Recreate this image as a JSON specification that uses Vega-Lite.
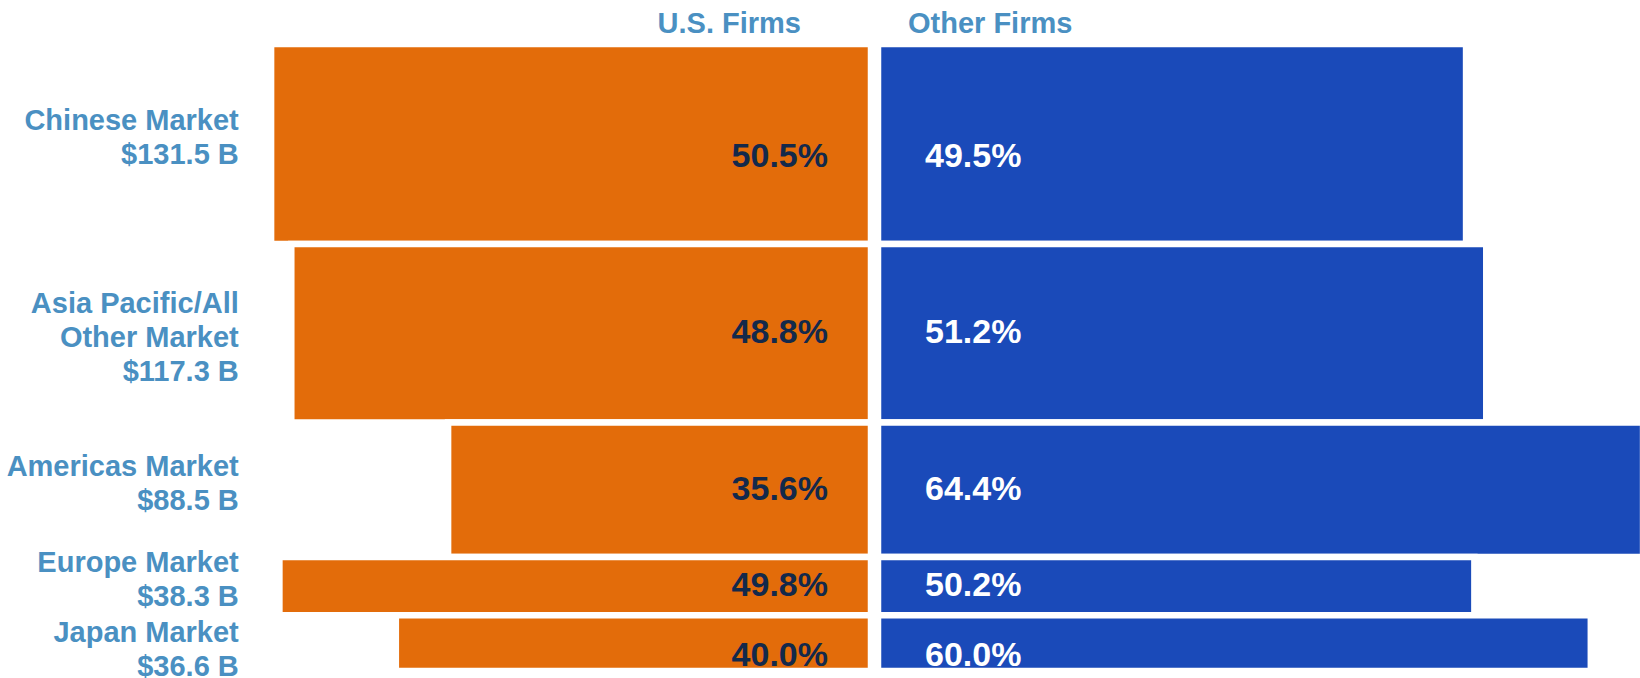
{
  "$schema": "https://vega.github.io/schema/vega-lite/v6.json",
  "autosize": {"type": "pad"},
  "padding": {"top": 10, "left": 0, "right": 0, "bottom": 0},
  "bounds": "flush",
  "background": "#ffffff",
  "config": {"view": {"stroke": null}, "font": "Liberation Sans"},
  "spacing": 7,
  "data": {
    "values": [
      {"order": 1, "market": "Chinese Market", "size": 131.5, "us": 0.505, "other": 0.495, "label": "Chinese Market\n$131.5 B"},
      {"order": 2, "market": "Asia Pacific/All Other Market", "size": 117.3, "us": 0.488, "other": 0.512, "label": "Asia Pacific/All\nOther Market\n$117.3 B"},
      {"order": 3, "market": "Americas Market", "size": 88.5, "us": 0.356, "other": 0.644, "label": "Americas Market\n$88.5 B"},
      {"order": 4, "market": "Europe Market", "size": 38.3, "us": 0.498, "other": 0.502, "label": "Europe Market\n$38.3 B"},
      {"order": 5, "market": "Japan Market", "size": 36.6, "us": 0.400, "other": 0.600, "label": "Japan Market\n$36.6 B"}
    ]
  },
  "transform": [
    {"stack": "size", "groupby": [], "sort": [{"field": "order", "order": "ascending"}], "as": ["y0", "y1"]}
  ],
  "hconcat": [
    {
      "width": 871,
      "height": 627,
      "title": {"text": "U.S. Firms", "anchor": "end", "frame": "group", "dx": -70, "offset": -21.5, "baseline": "alphabetic", "fontSize": 29, "fontWeight": "bold", "color": "#4a90c2", "font": "Liberation Sans"},
      "layer": [
        {
          "mark": {"type": "rect", "color": "#e36c0a", "stroke": "#ffffff", "strokeWidth": 6.5},
          "encoding": {
            "x": {"field": "us", "type": "quantitative", "scale": {"domain": [0, 0.7332], "reverse": true, "nice": false, "zero": true}, "axis": null},
            "x2": {"datum": 0},
            "y": {"field": "y0", "type": "quantitative", "scale": {"domain": [0, 412.2], "reverse": true, "nice": false}, "axis": null},
            "y2": {"field": "y1"}
          }
        },
        {
          "transform": [
            {"fold": ["y0", "y1"], "as": ["edge", "pos"]},
            {"aggregate": [{"op": "mean", "field": "pos", "as": "ymid"}], "groupby": ["order", "label", "us"]}
          ],
          "layer": [
            {
              "transform": [{"filter": {"field": "order", "oneOf": [1, 3, 4]}}],
              "mark": {"type": "text", "align": "right", "baseline": "middle", "dy": -23, "fontSize": 29, "fontWeight": "bold", "color": "#4a90c2", "lineBreak": "\n", "lineHeight": 34},
              "encoding": {
                "x": {"datum": 0.5322},
                "y": {"field": "ymid", "type": "quantitative"},
                "text": {"field": "label", "type": "nominal"}
              }
            },
            {
              "transform": [{"filter": {"field": "order", "equal": 5}}],
              "mark": {"type": "text", "align": "right", "baseline": "middle", "dy": -10, "fontSize": 29, "fontWeight": "bold", "color": "#4a90c2", "lineBreak": "\n", "lineHeight": 34},
              "encoding": {
                "x": {"datum": 0.5322},
                "y": {"field": "ymid", "type": "quantitative"},
                "text": {"field": "label", "type": "nominal"}
              }
            },
            {
              "transform": [{"filter": {"field": "order", "equal": 2}}],
              "mark": {"type": "text", "align": "right", "baseline": "middle", "dy": -29, "fontSize": 29, "fontWeight": "bold", "color": "#4a90c2", "lineBreak": "\n", "lineHeight": 34},
              "encoding": {
                "x": {"datum": 0.5322},
                "y": {"field": "ymid", "type": "quantitative"},
                "text": {"field": "label", "type": "nominal"}
              }
            },
            {
              "transform": [{"filter": {"field": "order", "oneOf": [2, 3, 4]}}],
              "mark": {"type": "text", "align": "right", "baseline": "middle", "dx": -43, "fontSize": 34, "fontWeight": "bold", "color": "#13294b"},
              "encoding": {
                "x": {"datum": 0},
                "y": {"field": "ymid", "type": "quantitative"},
                "text": {"field": "us", "type": "quantitative", "format": ".1%"}
              }
            },
            {
              "transform": [{"filter": {"field": "order", "oneOf": [1, 5]}}],
              "mark": {"type": "text", "align": "right", "baseline": "middle", "dx": -43, "dy": 13, "fontSize": 34, "fontWeight": "bold", "color": "#13294b"},
              "encoding": {
                "x": {"datum": 0},
                "y": {"field": "ymid", "type": "quantitative"},
                "text": {"field": "us", "type": "quantitative", "format": ".1%"}
              }
            }
          ]
        }
      ]
    },
    {
      "width": 762,
      "height": 627,
      "title": {"text": "Other Firms", "anchor": "start", "frame": "group", "dx": 30, "offset": -21.5, "baseline": "alphabetic", "fontSize": 29, "fontWeight": "bold", "color": "#4a90c2", "font": "Liberation Sans"},
      "layer": [
        {
          "mark": {"type": "rect", "color": "#1a4ab9", "stroke": "#ffffff", "strokeWidth": 6.5},
          "encoding": {
            "x": {"field": "other", "type": "quantitative", "scale": {"domain": [0, 0.6414], "nice": false, "zero": true}, "axis": null},
            "x2": {"datum": 0},
            "y": {"field": "y0", "type": "quantitative", "scale": {"domain": [0, 412.2], "reverse": true, "nice": false}, "axis": null},
            "y2": {"field": "y1"}
          }
        },
        {
          "transform": [
            {"fold": ["y0", "y1"], "as": ["edge", "pos"]},
            {"aggregate": [{"op": "mean", "field": "pos", "as": "ymid"}], "groupby": ["order", "other"]}
          ],
          "layer": [
            {
              "transform": [{"filter": {"field": "order", "oneOf": [2, 3, 4]}}],
              "mark": {"type": "text", "align": "left", "baseline": "middle", "dx": 47, "fontSize": 34, "fontWeight": "bold", "color": "#ffffff"},
              "encoding": {
                "x": {"datum": 0},
                "y": {"field": "ymid", "type": "quantitative"},
                "text": {"field": "other", "type": "quantitative", "format": ".1%"}
              }
            },
            {
              "transform": [{"filter": {"field": "order", "oneOf": [1, 5]}}],
              "mark": {"type": "text", "align": "left", "baseline": "middle", "dx": 47, "dy": 13, "fontSize": 34, "fontWeight": "bold", "color": "#ffffff"},
              "encoding": {
                "x": {"datum": 0},
                "y": {"field": "ymid", "type": "quantitative"},
                "text": {"field": "other", "type": "quantitative", "format": ".1%"}
              }
            }
          ]
        }
      ]
    }
  ]
}
